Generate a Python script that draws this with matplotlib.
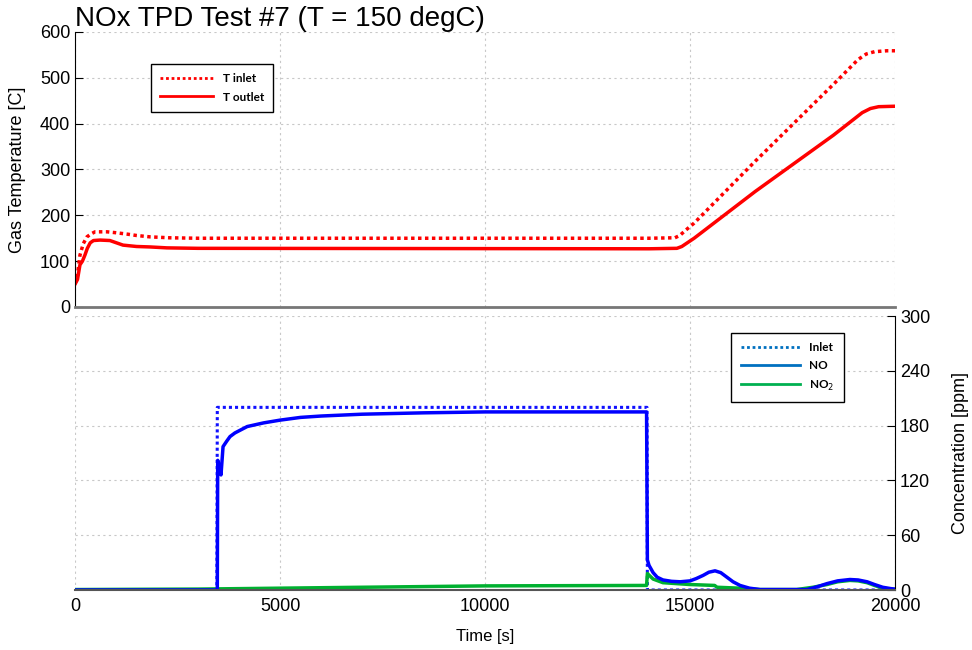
import matplotlib.pyplot as plt
from matplotlib.lines import Line2D

plt.rcParams['font.family'] = ['Liberation Sans', 'DejaVu Sans']

# temperatures [C]
t_Tin = [0, 60, 120, 200, 290, 400, 490, 780, 1000, 1270, 1500, 1830, 2300, 3000,
         14000, 14630, 14750, 14900, 15100, 16590, 18500, 18900, 19100, 19300, 19500,
         19800, 20000]
T_in = [50, 70, 113, 138, 153, 160, 164, 164, 162, 159, 156, 153, 151, 150,
        150, 151, 156, 168, 183, 318, 486, 522, 540, 552, 557,
        559, 559]
t_Tout = [0, 60, 120, 180, 240, 300, 370, 450, 610, 850, 1170, 1500, 1830, 2240, 3000,
          14000, 14680, 14800, 14950, 15100, 16590, 18500, 19000, 19200, 19400, 19600,
          20000]
T_out = [50, 60, 92, 100, 113, 128, 140, 145, 146, 145, 135, 132, 131, 129, 128,
         127, 128, 132, 141, 150, 252, 375, 410, 424, 433, 437,
         438]

# concentrations [ppm]
t_inlet = [0, 3460, 3470, 13950, 13960, 20000]
c_inlet = [0, 0, 200, 200, 0, 0]
t_NO = [0, 3470, 3480, 3520, 3560, 3610, 3700, 3780, 3900, 4200, 4600, 5000, 5500,
        6000, 7000, 8500, 10000, 12000, 13940,
        13960, 14000, 14100, 14200, 14340, 14550, 14760, 15000, 15150, 15320, 15460,
        15610, 15750, 15900, 16050, 16220, 16450, 16710, 17850, 18100, 18340, 18600,
        18900, 19100, 19320, 19500, 19700, 19900, 20000]
c_NO = [0, 0, 142, 135, 126, 157, 163, 168, 172, 179, 183, 186, 189,
        190.5, 192.5, 194, 195, 195, 195,
        33, 27, 19, 14, 11, 9.5, 9, 10, 12.5, 16, 19.5,
        21, 19, 14, 9, 5, 2, 0.5, 0.5, 3.5, 7, 10,
        11.5, 11, 9, 6, 3, 1.5, 1]
t_NO2 = [0, 3000, 5000, 7000, 10000, 13940, 13960, 14100, 14340, 15000, 15600, 15660,
         16220, 16700, 17600, 18000, 18340, 18600, 18900, 19100, 19320, 19500, 19700,
         20000]
c_NO2 = [0.5, 1, 2, 3, 4.5, 5, 18, 12, 8, 6, 5, 3,
         2, 0.5, 0.5, 3, 6, 9, 10.5, 10, 8, 5, 2,
         0.5]

grid_kw = dict(color='#c8c8c8', linestyle=(0, (2, 3)), linewidth=0.8)
leg_font = {'family': 'Lato', 'weight': 'bold', 'size': 8.5}

fig = plt.figure(figsize=(9.72, 6.5), dpi=100)
ax1 = fig.add_axes([0.0772, 0.5277, 0.8436, 0.4231])
ax2 = fig.add_axes([0.0772, 0.0923, 0.8436, 0.4215])

# Top: temperatures
ax1.plot(t_Tin, T_in, color='#ff0000', linewidth=2.5, linestyle=(0, (1, 1)))
ax1.plot(t_Tout, T_out, color='#ff0000', linewidth=2.5)
ax1.set_xlim(0, 20000)
ax1.set_ylim(0, 600)
ax1.set_xticks([0, 5000, 10000, 15000, 20000])
ax1.set_yticks(range(0, 601, 100))
ax1.grid(True, **grid_kw)
ax1.tick_params(axis='y', direction='in', length=6, labelsize=13)
ax1.tick_params(axis='x', length=0, labelbottom=False)
ax1.spines['top'].set_visible(False)
ax1.spines['right'].set_visible(False)
ax1.spines['bottom'].set_color('#777777')
ax1.spines['bottom'].set_linewidth(2)
ax1.set_ylabel('Gas Temperature [C]', fontsize=13, labelpad=10)
ax1.set_title('NOx TPD Test #7 (T = 150 degC)', fontsize=20, loc='left', pad=1)

leg1 = ax1.legend(handles=[
    Line2D([], [], color='#ff0000', linewidth=2, linestyle=(0, (1, 1))),
    Line2D([], [], color='#ff0000', linewidth=2)],
    labels=['T inlet', 'T outlet'], loc='upper left', bbox_to_anchor=(0.085, 0.905),
    prop=leg_font, handlelength=4.5, fancybox=False, edgecolor='black',
    framealpha=1, borderpad=0.8, labelspacing=0.6)
leg1.get_frame().set_linewidth(1)

# Bottom: concentrations
ax2.plot(t_inlet, c_inlet, color='#1010ff', linewidth=2.2, linestyle=(0, (1, 1)))
ax2.plot(t_NO2, c_NO2, color='#00b030', linewidth=2.5)
ax2.plot(t_NO, c_NO, color='#0000ff', linewidth=2.5)
ax2.set_xlim(0, 20000)
ax2.set_ylim(0, 300)
ax2.set_xticks([0, 5000, 10000, 15000, 20000])
ax2.set_yticks(range(0, 301, 60))
ax2.grid(True, **grid_kw)
ax2.yaxis.tick_right()
ax2.yaxis.set_label_position('right')
ax2.tick_params(axis='y', direction='in', length=6, labelsize=13)
ax2.tick_params(axis='x', length=0, labelsize=13, pad=6)
ax2.spines['top'].set_visible(False)
ax2.spines['left'].set_visible(False)
ax2.spines['bottom'].set_color('#555555')
ax2.spines['bottom'].set_linewidth(1.5)
ax2.set_ylabel('Concentration [ppm]', fontsize=13, labelpad=16)
ax2.set_xlabel('Time [s]', fontsize=12, labelpad=10)

leg2 = ax2.legend(handles=[
    Line2D([], [], color='#0070c0', linewidth=2, linestyle=(0, (1, 1))),
    Line2D([], [], color='#0070c0', linewidth=2),
    Line2D([], [], color='#00b050', linewidth=2)],
    labels=['Inlet', 'NO', 'NO$_2$'], loc='upper left', bbox_to_anchor=(0.793, 0.96),
    prop=leg_font, handlelength=5, fancybox=False, edgecolor='black',
    framealpha=1, borderpad=0.8, labelspacing=0.6)
leg2.get_frame().set_linewidth(1)

fig.savefig('out.png', dpi=100)
